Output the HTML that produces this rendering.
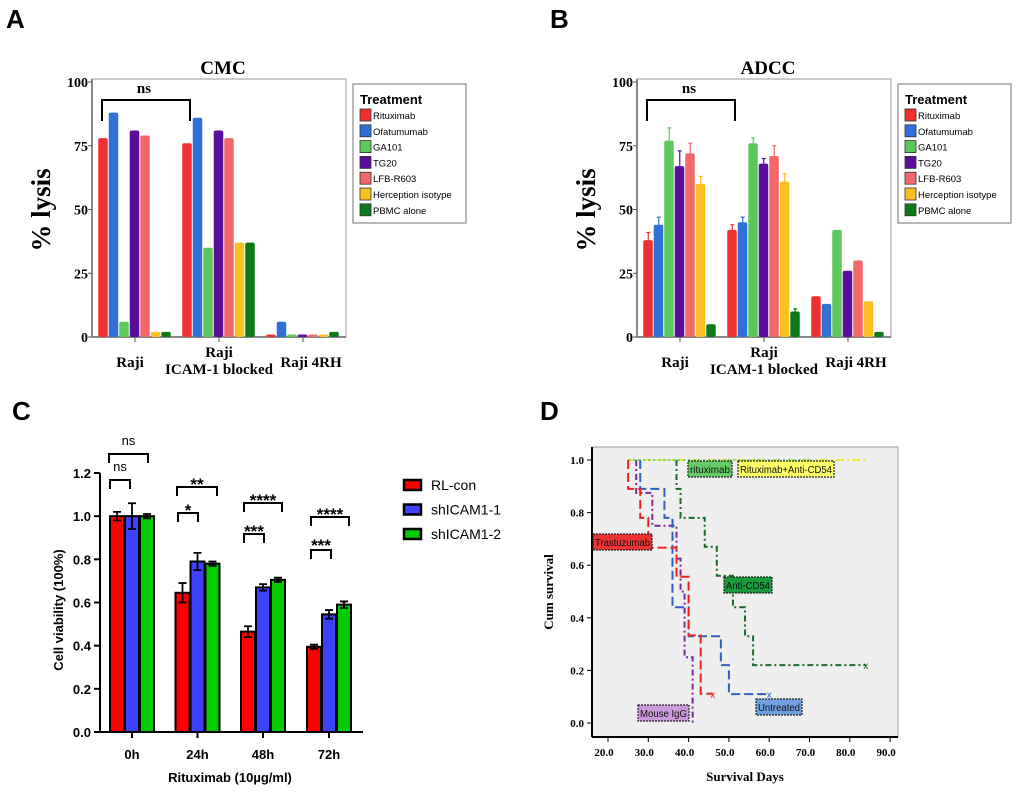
<!DOCTYPE html>
<html><head><meta charset="utf-8"><style>
body{margin:0;background:#fff}
svg{display:block}
.serif{font-family:"Liberation Serif",serif;font-weight:bold}
.sans{font-family:"Liberation Sans",sans-serif}
</style></head><body>
<svg id="fig" width="1020" height="796" viewBox="0 0 1020 796" xmlns="http://www.w3.org/2000/svg">
<rect width="1020" height="796" fill="#fff"/>
<text x="6" y="28" class="sans" font-weight="bold" font-size="26">A</text>
<text x="550" y="28" class="sans" font-weight="bold" font-size="26">B</text>
<text x="12" y="420" class="sans" font-weight="bold" font-size="26">C</text>
<text x="540" y="420" class="sans" font-weight="bold" font-size="26">D</text>
<g id="pa"></g>
<g id="pb"></g>
<g id="pc"></g>
<g id="pd"></g>
</svg>
<script>
const NS="http://www.w3.org/2000/svg";
// ---- Panels A/B data ----
const abGroups=["Raji","Raji ICAM-1 blocked","Raji 4RH"];
const abSeries=["Rituximab","Ofatumumab","GA101","TG20","LFB-R603","Herception isotype","PBMC alone"];
const abColors=["#f03030","#2f6fd6","#5cc85c","#5a0c9a","#f06868","#f8c020","#0a7a1a"];
const cmcRaji=[78,88,6,81,79,2,2];
const cmcIcam=[76,86,35,81,78,37,37];
const cmc4rh=[1,6,1,1,1,1,2];
const adccRaji=[38,44,77,67,72,60,5];
const adccIcam=[42,45,76,68,71,61,10];
const adcc4rh=[16,13,42,26,30,14,2];
const adccErrRaji=[3,3,5,6,4,3,0];
const adccErrIcam=[2,2,2,2,4,3,1];
const abTicks=[0,25,50,75,100];
// ---- Panel C data ----
const cGroups=["0h","24h","48h","72h"];
const cSeries=["RL-con","shICAM1-1","shICAM1-2"];
const cColors=["#ff0000","#4040ff","#00cc00"];
const cRL=[1.0,0.645,0.465,0.395];
const cSh1=[1.0,0.79,0.67,0.545];
const cSh2=[1.0,0.78,0.705,0.59];
const cErrRL=[0.02,0.045,0.025,0.01];
const cErrSh1=[0.06,0.04,0.015,0.02];
const cErrSh2=[0.01,0.01,0.01,0.015];
const cTicks=[0,0.2,0.4,0.6,0.8,1.0,1.2];
// ---- Panel D data ----
const dTicksX=[20,30,40,50,60,70,80,90];
const dTicksY=[0,0.2,0.4,0.6,0.8,1.0];
const trasT=[25,28,30,37,40,43];const trasS=[0.89,0.78,0.667,0.556,0.333,0.111];const trasEnd=46;
const untrT=[28,34,36,40,48,50];const untrS=[0.89,0.78,0.44,0.33,0.22,0.11];const untrEnd=60;
const igT=[27,31,37,38,39,41];const igS=[0.875,0.75,0.625,0.5,0.25,0];const igEnd=41;
const cd54T=[37,38,44,47,51,54,56];const cd54S=[0.89,0.78,0.67,0.56,0.44,0.33,0.22];const cd54End=84;
const rituxT=[];const rituxS=[];const rituxStart=25;const rituxEnd=70;
const comboT=[];const comboS=[];const comboStart=25;const comboEnd=84;

function el(tag,attrs,parent,text){const e=document.createElementNS(NS,tag);for(const k in attrs)e.setAttribute(k,attrs[k]);if(text!==undefined)e.textContent=text;parent.appendChild(e);return e;}

function barPanel(g,ox,title,data,errs){
  const x0=ox+92,x1=ox+346,yb=337,yt=82;
  const y=v=>yb-(v/100)*(yb-yt);
  const frame=el('rect',{x:x0,y:79,width:x1-x0,height:yb-79,fill:'#fff',stroke:'#bbb','stroke-width':1.5},g);
  
  el('line',{x1:x0,y1:79,x2:x0,y2:yb,stroke:'#888','stroke-width':2},g);
  el('line',{x1:x0,y1:yb,x2:x1,y2:yb,stroke:'#888','stroke-width':2},g);
  const t=el('text',{x:ox+223,y:74,'text-anchor':'middle','font-size':19,class:'serif'},g,title);
  
  abTicks.forEach(v=>{el('line',{x1:x0-4,x2:x0,y1:y(v),y2:y(v),stroke:'#555'},g);
    const tl=el('text',{x:x0-4,y:y(v)+5,'text-anchor':'end','font-size':14,class:'serif'},g,String(v));
    });
  const yl=el('text',{transform:`translate(${ox+50},210) rotate(-90)`,'text-anchor':'middle','font-size':27,class:'serif'},g,'% lysis');
  
  const centers=[ox+135,ox+219,ox+303];
  data.forEach((vals,gi)=>{
    el('line',{x1:centers[gi],x2:centers[gi],y1:yb,y2:yb+5,stroke:'#555'},g);
    vals.forEach((v,i)=>{
      const bx=centers[gi]-36.75+i*10.5;
      const e=errs[gi][i];
      if(e>0){el('line',{x1:bx+5,x2:bx+5,y1:y(v),y2:y(v+e),stroke:abColors[i],'stroke-width':1.2},g);
        el('line',{x1:bx+3,x2:bx+7,y1:y(v+e),y2:y(v+e),stroke:abColors[i],'stroke-width':1.2},g);}
      const r=el('rect',{x:bx,y:y(v),width:9.5,height:Math.max(yb-y(v),2),fill:abColors[i],rx:2},g);
      
      
    });
  });
  [["Raji",130,362],["Raji",219,352],["ICAM-1 blocked",219,369],["Raji 4RH",311,362]].forEach(a=>{
    const xl=el('text',{x:ox+a[1],y:a[2]+5,'text-anchor':'middle','font-size':15,class:'serif'},g,a[0]);
    });
  el('path',{d:`M${ox+102} 121V100H${ox+190}V121`,fill:'none',stroke:'#000','stroke-width':2},g);
  const ns=el('text',{x:ox+144,y:93,'text-anchor':'middle','font-size':15,class:'serif'},g,'ns');
  
  const lg=el('g',{},g);
  el('rect',{x:ox+353,y:84,width:Math.min(113,1018-ox-353),height:139,fill:'#fff',stroke:'#888','stroke-width':1.2},lg);
  el('text',{x:ox+360,y:104,'font-size':13,'font-weight':'bold',class:'sans'},lg,'Treatment');
  abSeries.forEach((s,i)=>{const yy=109+i*15.8;
    el('rect',{x:ox+360,y:yy,width:11,height:12,fill:abColors[i],stroke:'#333','stroke-width':0.8},lg);
    const lt=el('text',{x:ox+373,y:yy+10,'font-size':9.5,class:'sans'},lg,s);
    });
}
const z=[0,0,0,0,0,0,0];
barPanel(document.getElementById('pa'),0,'CMC',[cmcRaji,cmcIcam,cmc4rh],[z,z,z]);
barPanel(document.getElementById('pb'),545,'ADCC',[adccRaji,adccIcam,adcc4rh],[adccErrRaji,adccErrIcam,z]);

// Panel C
(function(){
  const g=document.getElementById('pc');
  const x0=100,x1=363,yb=732,yt=473;
  const y=v=>yb-(v/1.2)*(yb-yt);
  el('line',{x1:x0,y1:yt,x2:x0,y2:yb,stroke:'#000','stroke-width':2},g);
  el('line',{x1:x0,y1:yb,x2:x1,y2:yb,stroke:'#000','stroke-width':2},g);
  cTicks.forEach(v=>{el('line',{x1:x0-6,x2:x0,y1:y(v),y2:y(v),stroke:'#000','stroke-width':2},g);
    const tl=el('text',{x:x0-9,y:y(v)+5,'text-anchor':'end','font-size':13,'font-weight':'bold',class:'sans'},g,v.toFixed(1));
    });
  const centers=[132,197.5,263,329];
  const vals=[cRL,cSh1,cSh2],errs=[cErrRL,cErrSh1,cErrSh2];
  centers.forEach((cx,gi)=>{
    el('line',{x1:cx,x2:cx,y1:yb,y2:yb+6,stroke:'#000','stroke-width':2},g);
    const tl=el('text',{x:cx,y:yb+27,'text-anchor':'middle','font-size':13,'font-weight':'bold',class:'sans'},g,cGroups[gi]);
    
    for(let i=0;i<3;i++){
      const v=vals[i][gi],e=errs[i][gi],bx=cx-22+i*15;
      const r=el('rect',{x:bx,y:y(v),width:14,height:yb-y(v),fill:cColors[i],stroke:'#000','stroke-width':2},g);
      
      el('path',{d:`M${bx+3} ${y(v-e)}H${bx+11}M${bx+7} ${y(v-e)}V${y(v+e)}M${bx+3} ${y(v+e)}H${bx+11}`,stroke:'#000','stroke-width':1.8,fill:'none'},g);
    }
  });
  const br=[[109,148,454,'ns',441],[110,130,480,'ns',467],[177,217,487,'**',482],[178,198,513,'*',508],
    [244,282,503,'****',498],[244,264,534,'***',529],[311,349,517,'****',512],[311,331,550,'***',543]];
  br.forEach(b=>{el('path',{d:`M${b[0]} ${b[2]+9}V${b[2]}H${b[1]}V${b[2]+9}`,fill:'none',stroke:'#000','stroke-width':2},g);
    const t=el('text',{x:(b[0]+b[1])/2,y:b[4]+(b[3]=='ns'?4:8),'text-anchor':'middle','font-size':b[3]=='ns'?13:17,'font-weight':b[3]=='ns'?'normal':'bold',class:'sans'},g,b[3]);
    });
  const yl=el('text',{transform:'translate(63,610) rotate(-90)','text-anchor':'middle','font-size':13,'font-weight':'bold',class:'sans'},g,'Cell viability (100%)');
  
  const xl=el('text',{x:230,y:782,'text-anchor':'middle','font-size':13,'font-weight':'bold',class:'sans'},g,'Rituximab (10µg/ml)');
  
  cSeries.forEach((s,i)=>{const yy=480+i*24.5;
    el('rect',{x:404,y:yy,width:17,height:10,fill:cColors[i],stroke:'#000','stroke-width':2.5},g);
    const lt=el('text',{x:431,y:yy+10,'font-size':14,class:'sans'},g,s);
    });
})();

// Panel D
(function(){
  const g=document.getElementById('pd');
  const X=d=>608+(d-20)*4.03, Y=s=>723-s*263;
  el('rect',{x:592,y:447,width:306,height:290,fill:'#efefef',stroke:'#999','stroke-width':1},g);
  el('line',{x1:592,y1:447,x2:592,y2:737,stroke:'#000','stroke-width':2},g);
  el('line',{x1:592,y1:737,x2:898,y2:737,stroke:'#000','stroke-width':2},g);
  dTicksY.forEach(v=>{el('line',{x1:587,x2:592,y1:Y(v),y2:Y(v),stroke:'#000'},g);
    const t=el('text',{x:584,y:Y(v)+4,'text-anchor':'end','font-size':11,class:'serif'},g,v.toFixed(1));
    });
  dTicksX.forEach(v=>{el('line',{x1:X(v),x2:X(v),y1:737,y2:742,stroke:'#000'},g);
    const t=el('text',{x:X(v)-4,y:756,'text-anchor':'middle','font-size':11,class:'serif'},g,v.toFixed(1));
    });
  function curve(T,S,start,end,color,dash,name,mark){
    let d=`M${X(start)} ${Y(1)}`;let cur=1;
    T.forEach((t,i)=>{d+=`H${X(t)}V${Y(S[i])}`;cur=S[i];});
    d+=`H${X(end)}`;
    const p=el('path',{d:d,fill:'none',stroke:color,'stroke-width':2,'stroke-dasharray':dash},g);
    
    if(mark)el('text',{x:X(end),y:Y(cur)+4,'text-anchor':'middle','font-size':10,fill:color,class:'sans'},g,'x');
  }
  curve(comboT,comboS,comboStart,comboEnd,'#e8e840','8 3 2 3','curve-rituximab-anti-cd54',false);
  curve(rituxT,rituxS,rituxStart,rituxEnd,'#7ad07a','2 3','curve-rituximab',false);
  curve(cd54T,cd54S,37,cd54End,'#1a6a2a','6 3 2 3','curve-anti-cd54',true);
  curve(igT,igS,27,igEnd,'#7a2a9a','6 3 2 3','curve-mouse-igg',false);
  curve(untrT,untrS,28,untrEnd,'#3060c0','9 4','curve-untreated',true);
  curve(trasT,trasS,25,trasEnd,'#ee2020','9 4','curve-trastuzumab',true);
  const labs=[["rituximab",688,461,44,'#66cc66'],["Rituximab+Anti-CD54",738,461,96,'#ffff66'],["Trastuzumab",593,534,59,'#ee3333'],
    ["Anti-CD54",724,577,48,'#1a9a3a'],["Untreated",756,699,46,'#6fa0e0'],["Mouse IgG",638,705,51,'#cc99dd']];
  labs.forEach(l=>{const lg=el('g',{},g);
    el('rect',{x:l[1],y:l[2],width:l[3],height:16,fill:l[4],stroke:'#222','stroke-width':1.2,'stroke-dasharray':'2 1'},lg);
    el('text',{x:l[1]+l[3]/2,y:l[2]+12,'text-anchor':'middle','font-size':10,class:'sans',fill:'#111',textLength:l[3]-4,lengthAdjust:'spacingAndGlyphs'},lg,l[0]);});
  const yl=el('text',{transform:'translate(553,592) rotate(-90)','text-anchor':'middle','font-size':13,class:'serif'},g,'Cum survival');
  
  const xl=el('text',{x:745,y:781,'text-anchor':'middle','font-size':13,class:'serif'},g,'Survival Days');
  
})();
</script>
</body></html>
